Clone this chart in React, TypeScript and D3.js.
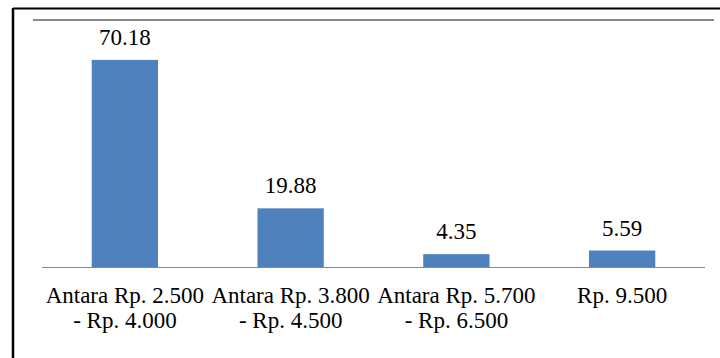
import React, { useEffect, useRef } from "react";
import * as d3 from "d3";

const categoriesLine1 = ["Antara Rp. 2.500", "Antara Rp. 3.800", "Antara Rp. 5.700", "Rp. 9.500"];
const categoriesLine2 = ["- Rp. 4.000", "- Rp. 4.500", "- Rp. 6.500", ""];
const values = [70.18, 19.88, 4.35, 5.59];
const valueLabels = ["70.18", "19.88", "4.35", "5.59"];
const yMax = 83.7;

const W = 720;
const H = 358;

export default function App() {
  const ref = useRef<SVGSVGElement>(null);

  useEffect(() => {
    const svg = d3.select(ref.current);
    svg.selectAll("*").remove();
    const plotLeft = 42;
    const plotRight = 705;
    const plotTop = 20;
    const plotBottom = 267;
    const idx = values.map((_, i) => String(i));
    const x = d3.scaleBand<string>().domain(idx).range([plotLeft, plotRight]).paddingInner(0.6).paddingOuter(0.3);
    const xc = d3.scaleBand<string>().domain(idx).range([plotLeft, plotRight]).padding(0);
    const y = d3.scaleLinear().domain([0, yMax]).range([plotBottom, plotTop]);
    const cx = (i: number) => (xc(String(i)) ?? 0) + xc.bandwidth() / 2;

    svg.append("line").attr("x1", 13).attr("y1", 8.5).attr("x2", W).attr("y2", 8.5).attr("stroke", "#000").attr("stroke-width", 2);
    svg.append("line").attr("x1", 13).attr("y1", 8).attr("x2", 13).attr("y2", H).attr("stroke", "#000").attr("stroke-width", 2.5);
    svg.append("line").attr("x1", 33).attr("y1", y(yMax)).attr("x2", 714).attr("y2", y(yMax)).attr("stroke", "#888").attr("stroke-width", 2);

    svg.selectAll("rect.bar").data(values).join("rect").attr("class", "bar")
      .attr("x", (_, i) => x(String(i)) ?? 0).attr("y", (d) => y(d))
      .attr("width", x.bandwidth()).attr("height", (d) => y(0) - y(d)).attr("fill", "#4f81bd");

    svg.append("line").attr("x1", plotLeft).attr("y1", y(0) + 0.5).attr("x2", plotRight).attr("y2", y(0) + 0.5)
      .attr("stroke", "#888").attr("stroke-width", 1);

    const place = (sel: d3.Selection<SVGTextElement, unknown, null, undefined>, text: string, cxv: number, yv: number) => {
      sel.attr("font-family", "Liberation Serif").attr("font-size", 23).attr("fill", "#000").text(text);
      const len = (sel.node() as SVGTextElement).getComputedTextLength();
      sel.attr("x", cxv - len / 2).attr("y", yv);
    };

    values.forEach((v, i) => {
      place(svg.append("text") as any, valueLabels[i], cx(i), y(v) - 15);
    });
    categoriesLine1.forEach((c, i) => {
      place(svg.append("text") as any, c, cx(i), 303);
      if (categoriesLine2[i]) place(svg.append("text") as any, categoriesLine2[i], cx(i), 328);
    });
  }, []);

  return <svg ref={ref} width={W} height={H} style={{ position: "absolute", left: 0, top: 0 }} />;
}
